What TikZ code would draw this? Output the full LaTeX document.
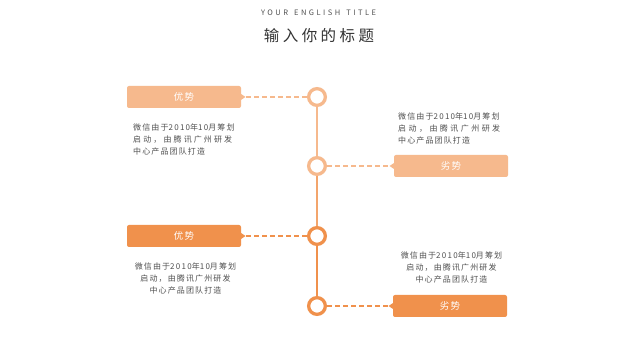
\documentclass[tikz,border=0pt]{standalone}
\usepackage{fontspec}
\setmainfont{Noto Sans CJK SC}
\definecolor{lo}{HTML}{F6B98D}
\definecolor{md}{HTML}{F3A56C}
\definecolor{dk}{HTML}{F0914C}
\definecolor{txt}{HTML}{505050}
\definecolor{ttl}{HTML}{333333}
\newcommand\dg[1]{{\addfontfeatures{LetterSpace=16}#1}}
\newcommand\lineone{微信由于\dg{2010}年\dg{10}月筹划}
\newcommand\linetwo{启动，由腾讯广州研发}
\newcommand\linetwojust[1]{\hbox to #1{启\hfil 动\hfil ，\hfil 由\hfil 腾\hfil 讯\hfil 广\hfil 州\hfil 研\hfil 发}}
\newcommand\linethree{中心产品团队打造}
\begin{document}
\begin{tikzpicture}[x=1pt,y=-1pt,
 tag/.style={fill=#1, rounded corners=2pt, minimum width=114pt, minimum height=22pt, inner sep=0pt, text=white, font=\fontsize{9.5}{10}\selectfont\addfontfeatures{LetterSpace=15}},
 dot/.style={circle, draw=#1, line width=3.3pt, fill=white, minimum size=16.7pt, inner sep=0pt},
 link/.style={draw=#1, dash pattern=on 5pt off 3pt, line width=1.6pt},
 spine/.style={draw=#1, line width=1.5pt},
 desc/.style={text=txt, font=\fontsize{8}{12}\selectfont\addfontfeatures{LetterSpace=14}, inner sep=0pt, align=#1},
]
\fill[white] (0,0) rectangle (635,358);
\useasboundingbox (0,0) rectangle (635,358);

\node[text=txt, font=\fontsize{7.5}{8}\selectfont\addfontfeatures{LetterSpace=33}] (en) at (318.5,13) {YOUR\hspace{2pt} ENGLISH\hspace{2pt} TITLE};
\node[text=ttl, font=\fontsize{15.5}{16}\selectfont\addfontfeatures{LetterSpace=22}] (zh) at (319,36) {输入你的标题};

% circles
\node[dot=lo] (c1) at (317,97) {};
\node[dot=lo] (c2) at (317,166) {};
\node[dot=dk] (c3) at (317,236) {};
\node[dot=dk] (c4) at (317,306) {};
\draw[spine=lo] (c1) -- (c2);
\draw[spine=md] (c2) -- (c3);
\draw[spine=dk] (c3) -- (c4);

% boxes
\node[tag=lo] (b1) at (184,97) {优势};
\fill[lo] (241,94) -- (245.5,97) -- (241,100) -- cycle;
\coordinate (p1) at (246,97);
\draw[link=lo] (p1) -- (c1);

\node[tag=lo] (b2) at (451,166) {劣势};
\fill[lo] (394,163) -- (389.5,166) -- (394,169) -- cycle;
\coordinate (p2) at (389,166);
\draw[link=lo] (c2) -- (p2);

\node[tag=dk] (b3) at (184,236) {优势};
\fill[dk] (241,233) -- (245.5,236) -- (241,239) -- cycle;
\coordinate (p3) at (246,236);
\draw[link=dk] (p3) -- (c3);

\node[tag=dk] (b4) at (450,306) {劣势};
\fill[dk] (393,303) -- (388.5,306) -- (393,309) -- cycle;
\coordinate (p4) at (388,306);
\draw[link=dk] (c4) -- (p4);

% descriptions
\node[desc=left, anchor=north west] (t1) at (133,124) {\lineone\\\linetwojust{99pt}\\\linethree};
\node[desc=left, anchor=north west] (t2) at (398,113) {\lineone\\\linetwojust{102pt}\\\linethree};
\node[desc=center, anchor=north] (t3) at (185.5,263) {\lineone\\\linetwo\\\linethree};
\node[desc=center, anchor=north] (t4) at (451.5,252) {\lineone\\\linetwo\\\linethree};
\end{tikzpicture}
\end{document}
